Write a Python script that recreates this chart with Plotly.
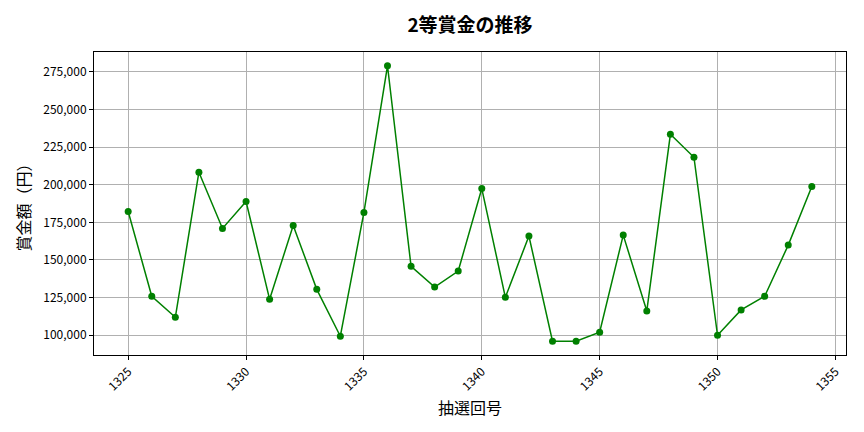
import plotly.graph_objects as go

draws = list(range(1325, 1355))
prize = [182200, 125850, 111930, 208270, 170930, 188830, 123860, 172920, 130490, 99340,
         181530, 278980, 145740, 132040, 142650, 197440, 125190, 165850, 96020, 96020,
         101990, 166510, 116130, 233460, 218210, 100000, 116790, 125850, 159880, 198770]

title = "2等賞金の推移"
xlabel = "抽選回号"
ylabel = "賞金額（円）"
font = "Noto Sans CJK JP"

fig = go.Figure(go.Scatter(
    x=draws, y=prize, mode="lines+markers",
    line=dict(color="green", width=1.5),
    marker=dict(color="green", size=7),
))

fig.update_layout(
    width=864, height=432,
    margin=dict(l=94, r=18, t=52, b=77, autoexpand=False),
    paper_bgcolor="white", plot_bgcolor="white",
    font=dict(family=font, size=12, color="black"),
    title=dict(text="<b>" + title + "</b>", x=0.5, xanchor="center", xref="paper",
               y=1 - 25 / 432, yref="container", yanchor="middle",
               font=dict(size=19, family=font, color="black")),
    showlegend=False,
)
fig.update_xaxes(
    range=[1323.55, 1355.45], tickmode="array", tickvals=[1325, 1330, 1335, 1340, 1345, 1350, 1355],
    tickangle=-45, ticks="outside", ticklen=4, tickcolor="black", automargin=False,
    showgrid=True, gridcolor="#b0b0b0", gridwidth=1,
    showline=True, linecolor="black", linewidth=1, mirror=True, zeroline=False,
    title=dict(text=xlabel, font=dict(size=16, family=font), standoff=10),
)
fig.update_yaxes(
    range=[86870, 288130], tickmode="array",
    tickvals=[100000, 125000, 150000, 175000, 200000, 225000, 250000, 275000],
    tickformat=",d", ticks="outside", ticklen=4, tickcolor="black", automargin=False,
    showgrid=True, gridcolor="#b0b0b0", gridwidth=1,
    showline=True, linecolor="black", linewidth=1, mirror=True, zeroline=False,
    title=dict(text=ylabel, font=dict(size=16, family=font), standoff=8),
)

fig.write_html("out.html", config={"displayModeBar": False},
               post_script="document.body.style.margin='0';")
